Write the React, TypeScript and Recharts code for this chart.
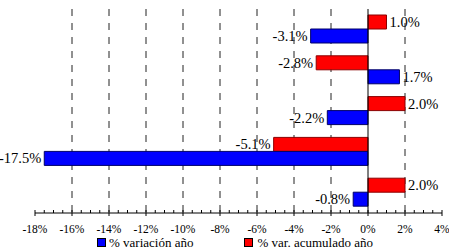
import React from 'react';
import {
  BarChart,
  Bar,
  XAxis,
  YAxis,
  CartesianGrid,
  ReferenceLine,
  LabelList,
  Legend,
} from 'recharts';

const categories = ['1', '2', '3', '4', '5'];
const variacionAnio = [-3.1, 1.7, -2.2, -17.5, -0.8];
const acumuladoAnio = [1.0, -2.8, 2.0, -5.1, 2.0];
const gridValues = [-16, -14, -12, -10, -8, -6, -4, -2, 2];

// minor ticks every 0.5%, labels only on the even ones
const minorTicks: number[] = [];
for (let v = -18; v <= 4; v += 0.5) minorTicks.push(v);

const data = categories.map((name, i) => ({
  name,
  variacion: variacionAnio[i],
  acumulado: acumuladoAnio[i],
}));

const FONT = '"Liberation Serif", "Times New Roman", serif';
const OLIVE_LIGHT = '#c2c28a';
const OLIVE_DARK = '#8a8a4a';

const XTick = ({ x, y, payload }: any) => {
  const v = payload.value;
  const major = Math.abs(v % 2) < 1e-9;
  return (
    <g>
      <line x1={x} x2={x} y1={y - 3} y2={major ? y + 3 : y} stroke="#000" />
      {major && (
        <text x={x} y={y + 20} textAnchor="middle" fontSize={11.5} fontFamily={FONT} fill="#000">
          {`${v}%`}
        </text>
      )}
    </g>
  );
};

const BarLabel = ({ x, y, width, height, value }: any) => {
  const left = Math.min(x, x + width);
  const right = Math.max(x, x + width);
  const neg = value < 0;
  return (
    <text
      x={neg ? left - 3 : right + 3}
      y={y + height / 2}
      textAnchor={neg ? 'end' : 'start'}
      dominantBaseline="central"
      fontSize={14.5}
      fontFamily={FONT}
      fill="#000"
    >
      {`${Number(value).toFixed(1)}%`}
    </text>
  );
};

const LegendContent = () => (
  <div
    style={{
      display: 'flex',
      justifyContent: 'center',
      alignItems: 'center',
      height: 13,
      lineHeight: '13px',
      paddingRight: 7,
      fontFamily: FONT,
      fontSize: 13,
      color: '#000',
      whiteSpace: 'nowrap',
    }}
  >
    <span style={{ display: 'flex', alignItems: 'center', marginRight: 51 }}>
      <span style={{ width: 7, height: 7, background: '#0000ff', border: '1px solid #000', marginRight: 3 }} />
      % variación año
    </span>
    <span style={{ display: 'flex', alignItems: 'center' }}>
      <span style={{ width: 7, height: 7, background: '#ff0000', border: '1px solid #000', marginRight: 4 }} />
      % var. acumulado año
    </span>
  </div>
);

export default function App() {
  return (
    <div style={{ position: 'absolute', left: 0, top: 0, background: '#fff' }}>
      <BarChart
        width={449}
        height={249}
        data={data}
        layout="vertical"
        margin={{ top: 9, right: 7, left: 35, bottom: 0 }}
        barSize={14}
        barGap={0}
      >
        <CartesianGrid
          horizontal={false}
          verticalValues={gridValues}
          stroke="#222"
          strokeDasharray="7 7"
        />
        <XAxis
          type="number"
          domain={[-18, 4]}
          ticks={minorTicks}
          interval={0}
          tick={<XTick />}
          tickSize={0}
          tickMargin={0}
          tickLine={false}
          axisLine={{ stroke: '#000' }}
          height={23}
          allowDataOverflow
        />
        <XAxis
          xAxisId="top"
          orientation="top"
          type="number"
          domain={[-18, 4]}
          height={0}
          tick={false}
          tickLine={false}
          axisLine={{ stroke: OLIVE_LIGHT }}
          allowDataOverflow
        />
        <YAxis
          type="category"
          dataKey="name"
          width={0}
          tick={false}
          tickLine={false}
          axisLine={{ stroke: OLIVE_DARK }}
        />
        <YAxis
          yAxisId="right"
          orientation="right"
          type="category"
          dataKey="name"
          width={0}
          tick={false}
          tickLine={false}
          axisLine={{ stroke: OLIVE_DARK }}
        />
        <ReferenceLine x={0} stroke="#000" />
        <Legend verticalAlign="bottom" content={<LegendContent />} />
        <Bar dataKey="acumulado" fill="#ff0000" stroke="#8b0000" isAnimationActive={false}>
          <LabelList dataKey="acumulado" content={<BarLabel />} />
        </Bar>
        <Bar dataKey="variacion" fill="#0000ff" stroke="#000066" isAnimationActive={false}>
          <LabelList dataKey="variacion" content={<BarLabel />} />
        </Bar>
      </BarChart>
    </div>
  );
}
